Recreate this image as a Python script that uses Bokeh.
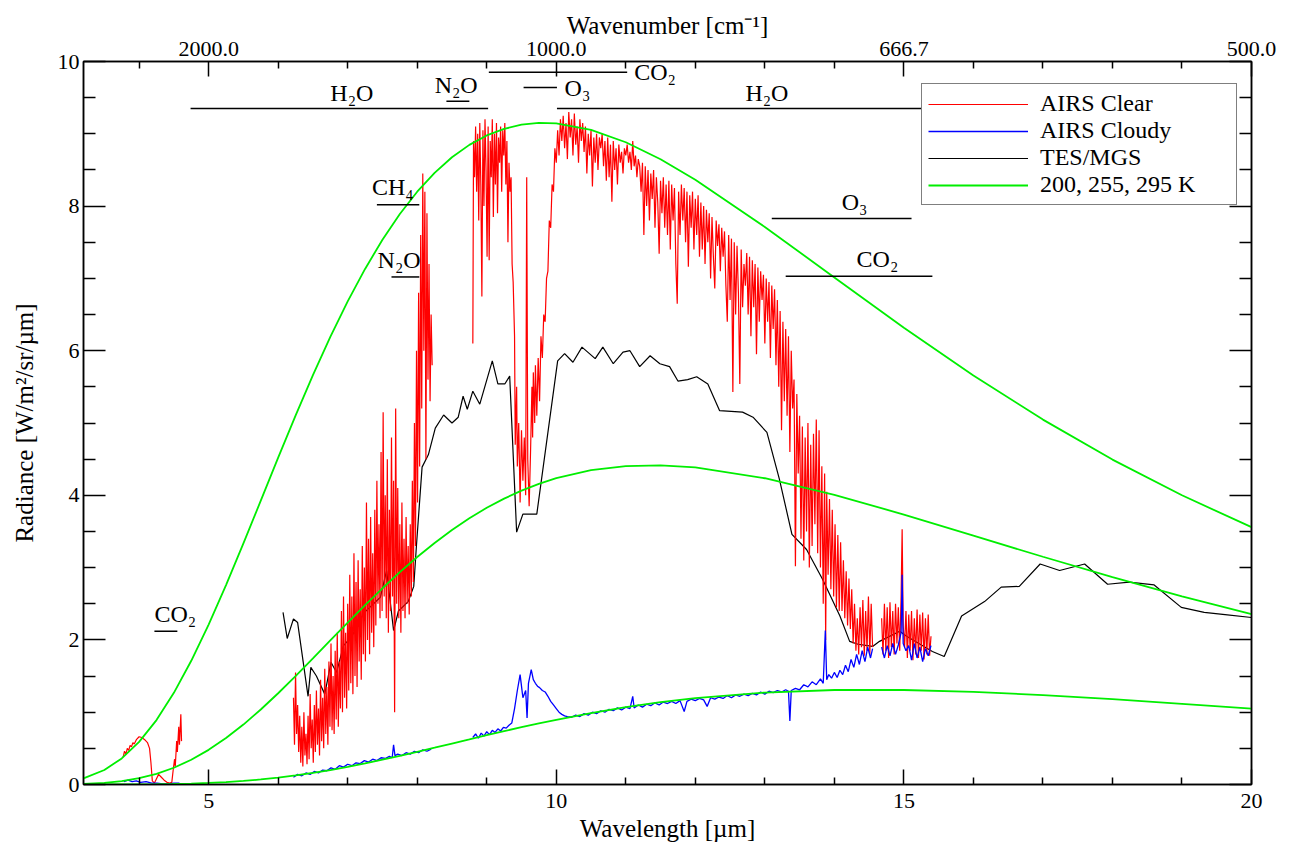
from bokeh.plotting import figure
from bokeh.models import Range1d, LinearAxis, FixedTicker, Legend, LegendItem, ColumnDataSource
from bokeh.core.properties import value, field
from bokeh.embed import file_html
from bokeh.resources import INLINE

NAN = float("nan")
FONT = "Liberation Serif"

# ---------------- axis ticks / labels ----------------
X_TICKS = [5, 10, 15, 20]
X_MINOR = [4, 6, 7, 8, 9, 11, 12, 13, 14, 16, 17, 18, 19]
WAVENUMBER_LABELS = ["2000.0", "1000.0", "666.7", "500.0"]
Y_TICKS = [0, 2, 4, 6, 8, 10]
Y_MINOR = [0.5, 1, 1.5, 2.5, 3, 3.5, 4.5, 5, 5.5, 6.5, 7, 7.5, 8.5, 9, 9.5]

# ---------------- blackbody reference curves ----------------
BB_WL = [3.2, 3.5, 3.75, 4, 4.25, 4.5, 4.75, 5, 5.25, 5.5, 5.75, 6, 6.25, 6.5, 6.75, 7, 7.25, 7.5,
         7.75, 8, 8.25, 8.5, 8.75, 9, 9.25, 9.5, 9.75, 10, 10.5, 11, 11.5, 12, 13, 14, 15, 16, 17,
         18, 19, 20]
BB_295 = [0.085, 0.201, 0.361, 0.589, 0.891, 1.268, 1.711, 2.212, 2.758, 3.334, 3.926, 4.520, 5.101,
          5.661, 6.191, 6.683, 7.131, 7.535, 7.891, 8.199, 8.459, 8.676, 8.847, 8.977, 9.068, 9.126,
          9.150, 9.143, 9.055, 8.883, 8.648, 8.365, 7.712, 7.013, 6.317, 5.657, 5.047, 4.494, 4.000,
          3.559]
BB_255 = [0.008, 0.023, 0.047, 0.087, 0.147, 0.232, 0.342, 0.479, 0.642, 0.829, 1.037, 1.262, 1.499,
          1.744, 1.992, 2.239, 2.480, 2.714, 2.937, 3.147, 3.341, 3.520, 3.682, 3.827, 3.954, 4.065,
          4.159, 4.237, 4.348, 4.404, 4.414, 4.385, 4.236, 4.007, 3.734, 3.442, 3.150, 2.868, 2.602,
          2.356]
BB_200 = [0.000, 0.000, 0.001, 0.002, 0.004, 0.007, 0.013, 0.022, 0.033, 0.049, 0.070, 0.095, 0.125,
          0.160, 0.200, 0.244, 0.292, 0.343, 0.396, 0.452, 0.509, 0.567, 0.624, 0.682, 0.738, 0.792,
          0.845, 0.895, 0.988, 1.070, 1.139, 1.196, 1.272, 1.307, 1.307, 1.281, 1.236, 1.180, 1.116,
          1.049]

# ---------------- TES / MGS ----------------
TES = [(6.07, 2.38), (6.13, 2.02), (6.22, 2.29), (6.28, 2.24), (6.43, 1.22), (6.47, 1.62), (6.55, 1.50),
       (6.67, 1.25), (6.76, 1.69), (6.84, 1.55), (6.94, 1.92), (7.06, 2.05), (7.23, 2.37), (7.47, 2.59),
       (7.56, 2.96), (7.66, 2.13), (7.73, 2.40), (7.87, 2.53), (7.95, 2.74), (7.99, 3.32), (8.07, 4.39),
       (8.16, 4.56), (8.26, 4.93), (8.38, 5.11), (8.50, 5.00), (8.59, 5.08), (8.66, 5.37), (8.72, 5.19),
       (8.80, 5.44), (8.90, 5.26), (9.08, 5.86), (9.16, 5.54), (9.26, 5.54), (9.33, 5.65), (9.43, 3.49),
       (9.52, 3.74), (9.72, 3.74), (10.02, 5.86), (10.12, 5.96), (10.24, 5.84), (10.37, 6.05),
       (10.56, 5.89), (10.67, 6.05), (10.82, 5.82), (10.96, 5.98), (11.06, 6.00), (11.20, 5.78),
       (11.35, 5.93), (11.49, 5.82), (11.63, 5.78), (11.75, 5.58), (11.89, 5.60), (12.02, 5.64),
       (12.18, 5.54), (12.35, 5.17), (12.68, 5.15), (12.83, 5.08), (13.03, 4.87), (13.21, 4.22),
       (13.39, 3.46), (13.60, 3.25), (13.83, 2.84), (14.08, 2.33), (14.22, 1.98), (14.34, 1.94),
       (14.55, 1.91), (14.65, 1.98), (14.94, 2.12), (15.04, 2.05), (15.41, 1.84), (15.58, 1.77),
       (15.83, 2.33), (16.16, 2.53), (16.40, 2.73), (16.66, 2.74), (16.96, 3.05), (17.24, 2.96),
       (17.60, 3.05), (17.93, 2.77), (18.24, 2.80), (18.60, 2.76), (18.99, 2.45), (19.32, 2.38),
       (19.62, 2.35), (20.00, 2.31)]

# ---------------- AIRS clear sky ----------------
CLEAR_SW = [(3.77, 0.38), (3.79, 0.46), (3.81, 0.42), (3.83, 0.50), (3.85, 0.47), (3.87, 0.54),
            (3.89, 0.52), (3.91, 0.58), (3.93, 0.56), (3.96, 0.62), (4.00, 0.66), (4.04, 0.65),
            (4.08, 0.62), (4.12, 0.58), (4.15, 0.50), (4.17, 0.30), (4.19, 0.05), (4.22, 0.02),
            (4.25, 0.08), (4.28, 0.14), (4.32, 0.10), (4.36, 0.06), (4.40, 0.03), (4.44, 0.02),
            (4.47, 0.03), (4.49, 0.20), (4.51, 0.35), (4.52, 0.25), (4.54, 0.60), (4.55, 0.45),
            (4.57, 0.80), (4.58, 0.55), (4.60, 0.97), (4.61, 0.60)]

CLEAR_MW = [(6.220, 1.20), (6.235, 0.55), (6.250, 1.55), (6.265, 0.70), (6.280, 1.10), (6.295, 0.45),
            (6.310, 0.95), (6.325, 0.30), (6.340, 0.80), (6.355, 0.25), (6.370, 1.00), (6.385, 0.40),
            (6.400, 0.70), (6.415, 0.28), (6.430, 0.95), (6.445, 0.35), (6.460, 1.25), (6.475, 0.50),
            (6.490, 0.90), (6.505, 0.30), (6.520, 1.10), (6.535, 0.45), (6.550, 1.30), (6.565, 0.55),
            (6.580, 1.05), (6.595, 0.40), (6.610, 1.45), (6.625, 0.60), (6.640, 1.20), (6.655, 0.50),
            (6.670, 1.60), (6.685, 0.70), (6.700, 1.35), (6.715, 0.55), (6.730, 1.70), (6.745, 0.80),
            (6.760, 1.95), (6.775, 0.75), (6.790, 1.50), (6.805, 0.70), (6.820, 1.85), (6.835, 0.90),
            (6.850, 2.10), (6.865, 0.80), (6.880, 1.70), (6.895, 1.05), (6.910, 2.40), (6.925, 1.00),
            (6.940, 2.60), (6.955, 1.20), (6.970, 2.10), (6.985, 1.05), (7.000, 2.50), (7.015, 1.30),
            (7.030, 2.90), (7.045, 1.40), (7.060, 2.60), (7.075, 1.25), (7.090, 3.20), (7.105, 1.50),
            (7.120, 2.80), (7.135, 1.35), (7.150, 3.10), (7.165, 1.70), (7.180, 2.70), (7.195, 1.45),
            (7.210, 3.30), (7.225, 1.80), (7.240, 3.00), (7.255, 1.70), (7.270, 3.90), (7.285, 2.00),
            (7.300, 3.40), (7.315, 1.80), (7.330, 3.70), (7.345, 2.10), (7.360, 3.20), (7.375, 1.90),
            (7.390, 3.80), (7.405, 2.20), (7.420, 4.20), (7.435, 2.50), (7.450, 3.60), (7.465, 2.30),
            (7.480, 4.60), (7.495, 2.40), (7.510, 5.15), (7.525, 2.60), (7.540, 4.00), (7.555, 2.30),
            (7.570, 4.50), (7.585, 2.10), (7.600, 3.80), (7.615, 2.40), (7.630, 4.80), (7.645, 2.60),
            (7.660, 4.20), (7.675, 1.00), (7.690, 5.20), (7.705, 2.50), (7.720, 4.10), (7.735, 2.30),
            (7.750, 3.60), (7.765, 2.10), (7.780, 3.90), (7.795, 2.40), (7.810, 3.40), (7.825, 2.30),
            (7.840, 3.70), (7.855, 2.50), (7.870, 3.30), (7.885, 2.35), (7.900, 3.60), (7.915, 2.60),
            (7.930, 4.20), (7.945, 2.80), (7.960, 5.00), (7.975, 3.30), (7.990, 6.00), (8.005, 3.90),
            (8.020, 6.80), (8.035, 4.40), (8.050, 7.60), (8.065, 5.20), (8.080, 8.45), (8.095, 6.00),
            (8.110, 8.20), (8.125, 4.50), (8.140, 7.90), (8.155, 5.60), (8.170, 7.20), (8.185, 5.30),
            (8.200, 6.50), (8.215, 5.80)]

CLEAR_LW1 = [(8.800, 6.10), (8.810, 8.90), (8.825, 8.40), (8.840, 9.10), (8.855, 8.20), (8.870, 9.00),
             (8.885, 7.80), (8.900, 9.15), (8.915, 8.30), (8.930, 6.75), (8.945, 9.05), (8.960, 8.00),
             (8.975, 9.20), (8.990, 8.50), (9.005, 7.30), (9.020, 9.10), (9.035, 7.25), (9.050, 8.90),
             (9.065, 8.40), (9.080, 9.20), (9.095, 7.85), (9.110, 9.00), (9.125, 8.30), (9.140, 9.15),
             (9.155, 7.90), (9.170, 8.95), (9.185, 8.60), (9.200, 9.10), (9.215, 8.20), (9.230, 9.05),
             (9.245, 8.70), (9.260, 9.15), (9.275, 8.30), (9.290, 8.90), (9.305, 7.50), (9.320, 8.60),
             (9.335, 8.20), (9.350, 8.40), (9.365, 7.20), (9.380, 6.95), (9.400, 6.20), (9.410, 4.70),
             (9.430, 5.50), (9.440, 4.40), (9.460, 5.00), (9.480, 3.90), (9.500, 4.90), (9.520, 4.20),
             (9.540, 4.80), (9.560, 4.00), (9.575, 8.40), (9.590, 4.50), (9.610, 3.85), (9.630, 4.60),
             (9.650, 5.50), (9.660, 4.80), (9.670, 5.70), (9.690, 5.00), (9.700, 5.80), (9.720, 5.10),
             (9.740, 5.90), (9.760, 5.30), (9.780, 6.20), (9.800, 5.90), (9.820, 6.50), (9.840, 6.40),
             (9.860, 7.00), (9.880, 7.10), (9.900, 7.80), (9.920, 7.70), (9.940, 8.30), (9.960, 8.20),
             (9.980, 8.80), (10.00, 8.60), (10.02, 9.05), (10.04, 8.70), (10.06, 9.20), (10.08, 8.90),
             (10.10, 9.25), (10.12, 8.80), (10.14, 9.15), (10.16, 8.65), (10.18, 9.30), (10.20, 8.95),
             (10.22, 9.20), (10.24, 8.70), (10.26, 9.28), (10.28, 8.85), (10.30, 9.10), (10.32, 8.60),
             (10.34, 9.20), (10.36, 8.90), (10.38, 9.15), (10.40, 8.75), (10.42, 9.10), (10.44, 8.45),
             (10.46, 9.00), (10.48, 8.70), (10.50, 9.05), (10.52, 8.27), (10.54, 8.95), (10.56, 8.60),
             (10.58, 9.00), (10.60, 8.50), (10.62, 8.95), (10.64, 8.80), (10.66, 9.00), (10.68, 8.55),
             (10.70, 8.90), (10.72, 8.35), (10.74, 8.95), (10.76, 8.40), (10.78, 8.85), (10.80, 8.06),
             (10.82, 8.90), (10.84, 8.50), (10.86, 8.80), (10.88, 8.30), (10.90, 8.85), (10.92, 8.60),
             (10.94, 8.75), (10.96, 8.45), (10.98, 8.80), (11.00, 8.70), (11.02, 8.85), (11.04, 8.60),
             (11.06, 8.75), (11.08, 8.50), (11.10, 8.90), (11.12, 8.55), (11.14, 8.70), (11.16, 8.40),
             (11.18, 8.65), (11.20, 8.55), (11.22, 8.20), (11.24, 8.60), (11.26, 7.60), (11.28, 8.55),
             (11.30, 8.00), (11.32, 8.50), (11.34, 7.80), (11.36, 8.45), (11.38, 8.10), (11.40, 8.50),
             (11.42, 7.70), (11.44, 8.40), (11.46, 8.05), (11.48, 7.34), (11.50, 8.35), (11.52, 7.90),
             (11.54, 8.40), (11.56, 7.70), (11.58, 8.30), (11.60, 7.60), (11.62, 8.35), (11.64, 7.40),
             (11.66, 8.30), (11.68, 7.80), (11.70, 8.25), (11.72, 7.20), (11.74, 6.65), (11.76, 8.20),
             (11.78, 7.60), (11.80, 8.30), (11.82, 7.80), (11.84, 8.25), (11.86, 7.50), (11.88, 8.20),
             (11.90, 7.16), (11.92, 8.15), (11.94, 7.70), (11.96, 8.20), (11.98, 7.40), (12.00, 8.10),
             (12.02, 7.60), (12.04, 8.15), (12.06, 7.30), (12.08, 8.05), (12.10, 7.40), (12.12, 8.00),
             (12.14, 7.20), (12.16, 7.95), (12.18, 7.50), (12.20, 7.90), (12.22, 7.00), (12.24, 7.85),
             (12.26, 7.30), (12.28, 6.86), (12.30, 7.80), (12.32, 7.45), (12.34, 7.75), (12.36, 7.10),
             (12.38, 7.70), (12.40, 7.30), (12.42, 7.65), (12.44, 6.90), (12.46, 6.40), (12.48, 7.60),
             (12.50, 6.70), (12.52, 7.55), (12.54, 5.43), (12.56, 7.50), (12.58, 6.50), (12.60, 7.45),
             (12.62, 6.80), (12.64, 5.54), (12.66, 7.40), (12.68, 6.60), (12.70, 7.20), (12.72, 6.90),
             (12.74, 7.35), (12.76, 6.50), (12.78, 7.30), (12.80, 6.20), (12.82, 7.25), (12.84, 6.60),
             (12.86, 7.20), (12.88, 5.95), (12.90, 7.15), (12.92, 6.40), (12.94, 7.10), (12.96, 6.70),
             (12.98, 7.05), (13.00, 6.10), (13.02, 7.00), (13.04, 6.40), (13.06, 6.95), (13.08, 5.90),
             (13.10, 6.90), (13.12, 6.30), (13.14, 6.85), (13.16, 5.80), (13.18, 6.70), (13.20, 5.50),
             (13.22, 6.55), (13.24, 4.90), (13.26, 6.40), (13.28, 5.30), (13.30, 6.30), (13.32, 5.10),
             (13.34, 6.20), (13.36, 4.60), (13.38, 6.00), (13.40, 5.20), (13.42, 5.60), (13.44, 3.02),
             (13.46, 5.40), (13.48, 4.30), (13.50, 5.10), (13.52, 3.40), (13.54, 4.95), (13.56, 3.10),
             (13.58, 4.80), (13.60, 3.50), (13.62, 5.00), (13.64, 3.00), (13.66, 4.70), (13.68, 3.30),
             (13.70, 4.85), (13.72, 3.60), (13.74, 5.05), (13.76, 3.20), (13.78, 4.90), (13.80, 3.00),
             (13.82, 4.40), (13.84, 2.50), (13.86, 4.30), (13.875, 2.00), (13.89, 4.05), (13.91, 2.90),
             (13.93, 3.95), (13.95, 2.70), (13.97, 3.80), (13.99, 2.60), (14.01, 3.60), (14.03, 2.45),
             (14.05, 3.45), (14.07, 2.40), (14.09, 3.35), (14.11, 2.40), (14.13, 3.10), (14.15, 2.30),
             (14.17, 2.95), (14.19, 2.20), (14.21, 2.85), (14.23, 2.15), (14.25, 2.70), (14.27, 1.95),
             (14.29, 2.50), (14.31, 1.85), (14.33, 2.30), (14.35, 1.80), (14.37, 2.45), (14.39, 1.90),
             (14.41, 2.55), (14.43, 1.78), (14.45, 2.40), (14.47, 1.85), (14.49, 2.60), (14.51, 1.80),
             (14.53, 2.50), (14.55, 1.90)]

CLEAR_LW2 = [(14.68, 2.30), (14.70, 1.80), (14.72, 2.50), (14.74, 1.85), (14.76, 2.45), (14.78, 1.75),
             (14.80, 2.52), (14.82, 1.90), (14.84, 2.40), (14.86, 1.80), (14.88, 2.50), (14.90, 1.95),
             (14.92, 2.45), (14.94, 1.85), (14.96, 2.60), (14.975, 3.53), (14.99, 2.20), (15.01, 1.90),
             (15.03, 2.40), (15.05, 1.75), (15.07, 2.35), (15.09, 1.85), (15.11, 2.40), (15.13, 1.72),
             (15.15, 2.30), (15.17, 1.80), (15.19, 2.42), (15.21, 1.75), (15.23, 2.35), (15.25, 1.85),
             (15.27, 2.38), (15.29, 1.73), (15.31, 2.30), (15.33, 1.80), (15.35, 2.35), (15.37, 1.78),
             (15.39, 2.05)]

# ---------------- AIRS cloudy sky ----------------
CLOUDY_SW = [(3.78, 0.04), (3.84, 0.06), (3.90, 0.04), (3.96, 0.05), (4.02, 0.03), (4.10, 0.04),
             (4.18, 0.02), (4.26, 0.02), (4.34, 0.01), (4.42, 0.01), (4.50, 0.02), (4.58, 0.02)]

CLOUDY_MW = [(6.22, 0.10), (6.28, 0.14), (6.34, 0.12), (6.40, 0.16), (6.46, 0.14), (6.52, 0.18),
             (6.58, 0.16), (6.64, 0.20), (6.70, 0.19), (6.76, 0.23), (6.82, 0.21), (6.88, 0.26),
             (6.94, 0.24), (7.00, 0.28), (7.06, 0.26), (7.12, 0.30), (7.18, 0.29), (7.24, 0.33),
             (7.30, 0.31), (7.36, 0.35), (7.42, 0.33), (7.48, 0.37), (7.54, 0.36), (7.60, 0.39),
             (7.64, 0.37), (7.66, 0.55), (7.68, 0.40), (7.72, 0.42), (7.78, 0.40), (7.84, 0.44),
             (7.90, 0.42), (7.96, 0.46), (8.02, 0.44), (8.08, 0.48), (8.14, 0.46), (8.20, 0.49)]

CLOUDY_LW1 = [(8.80, 0.65), (8.84, 0.70), (8.88, 0.64), (8.92, 0.71), (8.96, 0.67), (9.00, 0.73),
              (9.04, 0.69), (9.08, 0.75), (9.12, 0.72), (9.16, 0.77), (9.20, 0.74), (9.24, 0.79),
              (9.28, 0.78), (9.32, 0.82), (9.36, 0.85), (9.40, 1.05), (9.44, 1.30), (9.48, 1.52),
              (9.52, 1.20), (9.56, 1.30), (9.58, 0.92), (9.60, 1.40), (9.64, 1.59), (9.67, 1.45),
              (9.70, 1.40), (9.73, 1.36), (9.76, 1.34), (9.80, 1.30), (9.84, 1.28), (9.88, 1.22),
              (9.92, 1.15), (9.96, 1.10), (10.00, 1.05), (10.04, 1.00), (10.08, 0.97), (10.12, 0.95),
              (10.16, 0.94), (10.22, 0.93), (10.28, 0.96), (10.34, 0.94), (10.40, 0.98), (10.46, 0.96),
              (10.52, 1.00), (10.58, 0.98), (10.64, 1.02), (10.70, 1.00), (10.76, 1.04), (10.82, 1.02),
              (10.88, 1.06), (10.94, 1.03), (11.00, 1.07), (11.06, 1.05), (11.10, 1.22), (11.12, 1.06),
              (11.18, 1.10), (11.24, 1.07), (11.30, 1.11), (11.36, 1.09), (11.42, 1.13), (11.48, 1.10),
              (11.54, 1.14), (11.60, 1.12), (11.66, 1.15), (11.72, 1.12), (11.78, 1.16), (11.84, 1.01),
              (11.88, 1.15), (11.94, 1.18), (12.00, 1.16), (12.06, 1.19), (12.12, 1.17), (12.17, 1.08),
              (12.22, 1.20), (12.28, 1.18), (12.34, 1.21), (12.40, 1.19), (12.46, 1.23), (12.52, 1.20),
              (12.58, 1.24), (12.64, 1.22), (12.70, 1.25), (12.76, 1.23), (12.82, 1.26), (12.88, 1.24),
              (12.94, 1.28), (13.00, 1.25), (13.06, 1.29), (13.12, 1.27), (13.18, 1.30), (13.24, 1.28),
              (13.30, 1.31), (13.34, 1.29), (13.36, 0.88), (13.38, 1.30), (13.44, 1.33), (13.50, 1.31),
              (13.56, 1.38), (13.62, 1.35), (13.68, 1.42), (13.74, 1.38), (13.80, 1.46), (13.84, 1.40),
              (13.87, 2.13), (13.89, 1.45), (13.92, 1.52), (13.96, 1.47), (14.00, 1.55), (14.04, 1.48),
              (14.08, 1.58), (14.12, 1.52), (14.16, 1.65), (14.20, 1.56), (14.24, 1.73), (14.28, 1.62),
              (14.32, 1.80), (14.36, 1.66), (14.40, 1.85), (14.44, 1.70), (14.48, 1.90), (14.52, 1.75),
              (14.55, 1.88)]

CLOUDY_LW2 = [(14.68, 1.90), (14.72, 1.75), (14.76, 1.92), (14.80, 1.78), (14.84, 1.95), (14.88, 1.80),
              (14.92, 1.93), (14.96, 2.10), (14.975, 2.90), (14.99, 1.95), (15.03, 1.85), (15.07, 1.92),
              (15.11, 1.72), (15.15, 1.95), (15.19, 1.75), (15.23, 1.90), (15.27, 1.70), (15.31, 1.88),
              (15.35, 1.78), (15.39, 1.92)]

# ---------------- absorption band annotations ----------------
BAND_NAME = ["H₂O", "N₂O", "CO₂", "O₃", "H₂O", "CH₄", "N₂O", "O₃", "CO₂", "CO₂"]
BAND_START = [4.74, 8.42, 9.03, 9.53, 10.01, 7.42, 7.63, 13.10, 13.30, 4.22]
BAND_END = [9.02, 8.75, 11.02, 10.01, 15.40, 8.03, 8.03, 15.11, 15.41, 4.55]
BAND_LEVEL = [9.35, 9.45, 9.85, 9.64, 9.35, 8.02, 7.02, 7.83, 7.03, 2.12]
LABEL_X = [7.06, 8.56, 11.12, 10.12, 13.03, 7.65, 7.74, 14.29, 14.62, 4.22]
LABEL_Y = [9.38, 9.49, 9.85, 9.63, 9.38, 8.08, 7.08, 7.88, 7.09, 2.18]
LABEL_ALIGN = ["center", "center", "left", "left", "center", "center", "center", "center", "center", "left"]
LABEL_BASE = ["bottom", "bottom", "middle", "middle", "bottom", "bottom", "bottom", "bottom", "bottom", "bottom"]


def join(*segments):
    xs, ys = [], []
    for i, seg in enumerate(segments):
        if i:
            xs.append(NAN)
            ys.append(NAN)
        for a, b in seg:
            xs.append(a)
            ys.append(b)
    return xs, ys


p = figure(width=1292, height=850, x_range=Range1d(3.2, 20), y_range=Range1d(0, 10),
           output_backend="svg", toolbar_location=None,
           x_axis_location=None, y_axis_location=None,
           min_border_left=83, min_border_right=41, min_border_top=61, min_border_bottom=66)
p.xgrid.visible = False
p.ygrid.visible = False
p.outline_line_color = "black"
p.outline_line_width = 1.5
p.background_fill_color = "white"
p.border_fill_color = "white"


def style_axis(ax, tick_in, minor_in):
    ax.major_tick_in = tick_in
    ax.major_tick_out = 0
    ax.minor_tick_in = minor_in
    ax.minor_tick_out = 0
    ax.axis_line_color = "black"
    ax.axis_line_width = 1.5
    ax.major_tick_line_color = "black"
    ax.major_tick_line_width = 1.5
    ax.minor_tick_line_color = "black"
    ax.minor_tick_line_width = 1.5
    ax.major_label_text_font = FONT
    ax.major_label_text_font_size = "22px"
    ax.major_label_text_color = "black"
    ax.axis_label_text_font = FONT
    ax.axis_label_text_font_size = "25px"
    ax.axis_label_text_font_style = "normal"
    ax.axis_label_text_color = "black"


xb = LinearAxis(ticker=FixedTicker(ticks=X_TICKS, minor_ticks=X_MINOR),
                axis_label="Wavelength [µm]", major_label_standoff=9, axis_label_standoff=4)
style_axis(xb, 15, 7)
p.add_layout(xb, "below")

xt = LinearAxis(ticker=FixedTicker(ticks=X_TICKS, minor_ticks=X_MINOR),
                axis_label="Wavenumber [cm⁻¹]", major_label_standoff=6, axis_label_standoff=0,
                major_label_overrides={t: s for t, s in zip(X_TICKS, WAVENUMBER_LABELS)})
style_axis(xt, 15, 7)
p.add_layout(xt, "above")

yl = LinearAxis(ticker=FixedTicker(ticks=Y_TICKS, minor_ticks=Y_MINOR),
                axis_label="Radiance [W/m²/sr/µm]", major_label_standoff=4, axis_label_standoff=17)
style_axis(yl, 22, 12)
p.add_layout(yl, "left")

yr = LinearAxis(ticker=FixedTicker(ticks=Y_TICKS, minor_ticks=Y_MINOR),
                major_label_overrides={t: "" for t in Y_TICKS})
style_axis(yr, 22, 12)
p.add_layout(yr, "right")

# ---- data lines ----
tx, ty = join(TES)
r_tes = p.line(tx, ty, line_color="black", line_width=1.2)

cx, cy = join(CLEAR_SW, CLEAR_MW, CLEAR_LW1, CLEAR_LW2)
r_clear = p.line(cx, cy, line_color="#ff0000", line_width=1.2)

bx, by = join(CLOUDY_SW, CLOUDY_MW, CLOUDY_LW1, CLOUDY_LW2)
r_cloudy = p.line(bx, by, line_color="#0000ff", line_width=1.3)

r_bb = p.multi_line(xs=[BB_WL, BB_WL, BB_WL], ys=[BB_200, BB_255, BB_295],
                    line_color="#00ee00", line_width=1.8)

# ---- band annotations ----
bands = ColumnDataSource(dict(x0=BAND_START, x1=BAND_END, y=BAND_LEVEL))
p.segment(x0="x0", y0="y", x1="x1", y1="y", source=bands, line_color="black", line_width=1.5)

labels = ColumnDataSource(dict(x=LABEL_X, y=LABEL_Y, text=BAND_NAME,
                               anchor_h=LABEL_ALIGN, anchor_v=LABEL_BASE))
p.text(x="x", y="y", text="text", source=labels, text_font=value(FONT),
       text_font_size=value("24px"), text_color="black",
       text_align=field("anchor_h"), text_baseline=field("anchor_v"))

# ---- legend ----
legend = Legend(items=[LegendItem(label="AIRS Clear", renderers=[r_clear]),
                       LegendItem(label="AIRS Cloudy", renderers=[r_cloudy]),
                       LegendItem(label="TES/MGS", renderers=[r_tes]),
                       LegendItem(label="200, 255, 295 K", renderers=[r_bb])],
                location=(838, 579))
legend.label_text_font = FONT
legend.label_text_font_size = "24px"
legend.label_text_color = "black"
legend.glyph_width = 100
legend.glyph_height = 24
legend.label_width = 190
legend.label_standoff = 12
legend.padding = 6
legend.spacing = 0
legend.margin = 0
legend.border_line_color = "black"
legend.border_line_width = 1.5
legend.background_fill_color = "white"
legend.background_fill_alpha = 1.0
p.add_layout(legend)

open("out.html", "w").write(file_html(p, INLINE))
